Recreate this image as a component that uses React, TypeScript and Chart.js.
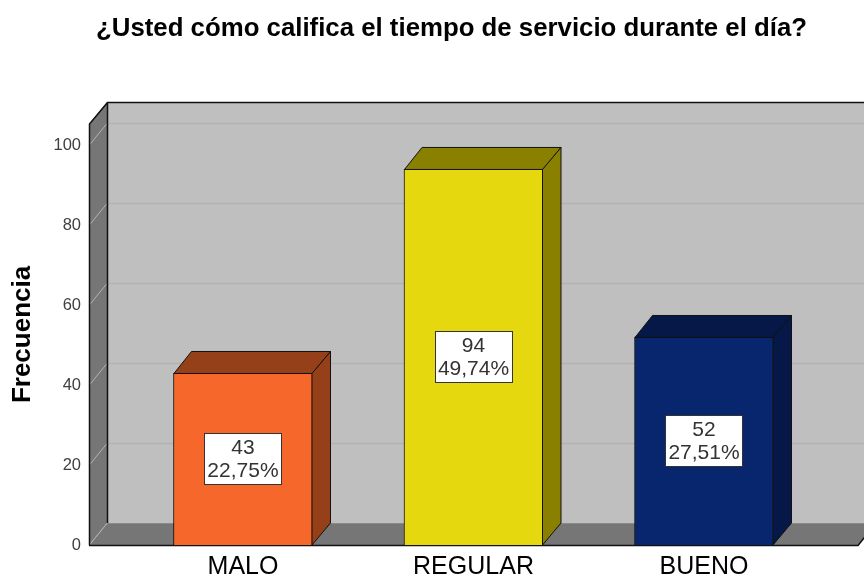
import React, { useEffect, useRef } from "react";
import { Chart, registerables } from "chart.js";

Chart.register(...registerables);

const chartTitle = "¿Usted cómo califica el tiempo de servicio durante el día?";
const yAxisTitle = "Frecuencia";
const categories = ["MALO", "REGULAR", "BUENO"];
const counts = [43, 94, 52];
const percents = ["22,75%", "49,74%", "27,51%"];
const yTicks = [0, 20, 40, 60, 80, 100];
const frontColors = ["#F5672A", "#E6D80F", "#08266E"];
const darkColors = ["#96401A", "#8A8000", "#051848"];

const DX = 18;
const DY = -22;
const FONT = "'Liberation Sans', Arial, sans-serif";

const scenePlugin = {
  id: "scene3d",
  afterLayout(chart: any) {
    // the title is centred a little right of the canvas centre
    chart.titleBlock.left = 96;
    chart.titleBlock.right = 807;
  },
  beforeDatasetsDraw(chart: any) {
    const { ctx, chartArea: a, scales } = chart;
    ctx.save();
    ctx.fillStyle = "#BFBFBF";
    ctx.fillRect(a.left + DX, a.top + DY, a.right - a.left, a.bottom - a.top);
    ctx.fillStyle = "#767676";
    ctx.beginPath();
    ctx.moveTo(a.left, a.top);
    ctx.lineTo(a.left + DX, a.top + DY);
    ctx.lineTo(a.left + DX, a.bottom + DY);
    ctx.lineTo(a.left, a.bottom);
    ctx.closePath();
    ctx.fill();
    ctx.beginPath();
    ctx.moveTo(a.left, a.bottom);
    ctx.lineTo(a.left + DX, a.bottom + DY);
    ctx.lineTo(a.right + DX, a.bottom + DY);
    ctx.lineTo(a.right, a.bottom);
    ctx.closePath();
    ctx.fill();
    ctx.fillStyle = "#8A8A8A";
    ctx.fillRect(a.left + DX, a.bottom + DY, a.right - a.left, 1);

    ctx.lineWidth = 1.5;
    for (const v of yTicks) {
      const y = Math.round(scales.y.getPixelForValue(v)) + 0.5;
      if (v > 0) {
        ctx.strokeStyle = "#B2B2B2";
        ctx.beginPath();
        ctx.moveTo(a.left + DX, y + DY);
        ctx.lineTo(a.right + DX, y + DY);
        ctx.stroke();
      }
      ctx.strokeStyle = "#B4B4B4";
      ctx.lineWidth = 1;
      ctx.beginPath();
      ctx.moveTo(a.left, y);
      ctx.lineTo(a.left + DX, y + DY);
      ctx.stroke();
      ctx.lineWidth = 1.5;
    }

    ctx.strokeStyle = "#111111";
    ctx.beginPath();
    ctx.moveTo(a.left + 0.5, a.bottom);
    ctx.lineTo(a.left + 0.5, a.top);
    ctx.lineTo(a.left + DX + 0.5, a.top + DY + 0.5);
    ctx.lineTo(a.right + DX, a.top + DY + 0.5);
    ctx.moveTo(a.left + DX + 0.5, a.top + DY);
    ctx.lineTo(a.left + DX + 0.5, a.bottom + DY);
    ctx.moveTo(a.left, a.bottom + 0.5);
    ctx.lineTo(a.right, a.bottom + 0.5);
    ctx.lineTo(a.right + DX, a.bottom + DY);
    ctx.stroke();
    ctx.restore();
  },
  afterDatasetsDraw(chart: any) {
    const { ctx, scales } = chart;
    const bars = chart.getDatasetMeta(0).data;
    ctx.save();
    bars.forEach((bar: any, i: number) => {
      const l = bar.x - bar.width / 2;
      const r = bar.x + bar.width / 2;
      const t = bar.y;
      const b = bar.base;
      ctx.fillStyle = darkColors[i];
      ctx.strokeStyle = "#111111";
      ctx.lineWidth = 1;
      ctx.beginPath();
      ctx.moveTo(l + 0.5, t + 0.5);
      ctx.lineTo(l + DX, t + DY + 0.5);
      ctx.lineTo(r + DX, t + DY + 0.5);
      ctx.lineTo(r, t + 0.5);
      ctx.closePath();
      ctx.fill();
      ctx.stroke();
      ctx.beginPath();
      ctx.moveTo(r - 0.5, t + 0.5);
      ctx.lineTo(r + DX, t + DY + 0.5);
      ctx.lineTo(r + DX, b + DY);
      ctx.lineTo(r - 0.5, b);
      ctx.closePath();
      ctx.fill();
      ctx.stroke();

      const cx = bar.x;
      const cy = scales.y.getPixelForValue(counts[i] / 2);
      const w = 78;
      const h = 52;
      const bx = Math.round(cx - w / 2);
      const by = Math.round(cy - h / 2);
      ctx.fillStyle = "#FFFFFF";
      ctx.fillRect(bx, by, w, h);
      ctx.strokeStyle = "#333333";
      ctx.strokeRect(bx + 0.5, by + 0.5, w - 1, h - 1);
      ctx.fillStyle = "#333333";
      ctx.font = `21px ${FONT}`;
      ctx.textAlign = "center";
      ctx.textBaseline = "middle";
      ctx.fillText(String(counts[i]), cx, by + 15);
      ctx.fillText(percents[i], cx, by + 38);
    });
    ctx.restore();
  },
};

export default function App() {
  const ref = useRef<HTMLCanvasElement | null>(null);

  useEffect(() => {
    document.body.style.margin = "0";
    document.body.style.background = "#FFFFFF";
    const chart = new Chart(ref.current as HTMLCanvasElement, {
      type: "bar",
      data: {
        datasets: [
          {
            label: yAxisTitle,
            data: counts.map((v, i) => ({ x: i, y: v })),
            backgroundColor: frontColors,
            borderColor: "#111111",
            borderWidth: 1,
            barThickness: 139,
          },
        ],
      },
      options: {
        animation: false,
        responsive: false,
        layout: { padding: { left: 0, right: 6, top: 0, bottom: 0 } },
        plugins: {
          legend: { display: false },
          tooltip: { enabled: false },
          title: {
            display: true,
            text: chartTitle,
            color: "#000000",
            font: { family: FONT, size: 25.8, weight: "bold" },
            padding: { top: 13.5, bottom: 79.5 },
          },
        },
        scales: {
          x: {
            type: "linear",
            offset: false,
            min: -0.668,
            max: 2.668,
            grid: { display: false, drawTicks: false },
            border: { display: false },
            afterBuildTicks: (s: any) => {
              s.ticks = categories.map((_, i) => ({ value: i }));
            },
            afterFit: (s: any) => {
              s.height = 31;
            },
            ticks: {
              autoSkip: false,
              maxRotation: 0,
              padding: 7,
              color: "#000000",
              font: { family: FONT, size: 25 },
              callback: (v: any) => categories[v],
            },
          },
          y: {
            min: 0,
            max: 105.25,
            grid: { display: false, drawTicks: false },
            border: { display: false },
            afterBuildTicks: (s: any) => {
              s.ticks = yTicks.map((value) => ({ value }));
            },
            afterFit: (s: any) => {
              s.width = 89;
            },
            title: {
              display: true,
              text: yAxisTitle,
              color: "#000000",
              font: { family: FONT, size: 26, weight: "bold" },
              padding: { top: 7, bottom: 0 },
            },
            ticks: {
              padding: 8,
              color: "#404040",
              font: { family: FONT, size: 16.5 },
            },
          },
        },
      } as any,
      plugins: [scenePlugin],
    });
    return () => chart.destroy();
  }, []);

  return <canvas ref={ref} width={864} height={576} style={{ display: "block" }} />;
}
